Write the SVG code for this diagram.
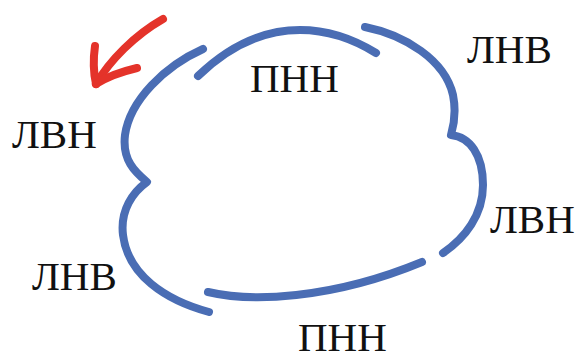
<svg xmlns="http://www.w3.org/2000/svg" width="579" height="360" viewBox="0 0 579 360">
<style>
.arc{fill:none;stroke:#4a6db4;stroke-width:8;stroke-linecap:round;stroke-linejoin:round}
.red{fill:none;stroke:#e4332a;stroke-width:8;stroke-linecap:round;stroke-linejoin:round}
.lbl{font-family:"Liberation Serif","Times New Roman",serif;font-size:41px;fill:#111}
</style>
<rect width="579" height="360" fill="#fff"/>
<g id="connectors">
<path class="arc" d="M203,49 C165,66 130,100 125,135 C122,160 135,172 147,182 C133,192 120,210 123,235 C128,275 165,300 209,312"/>
<path class="arc" d="M208,292 C250,302 330,300 422,262"/>
<path class="arc" d="M365,27 C405,35 445,60 453,95 C457,115 453,128 451,135 C470,137 483,155 483,185 C483,215 465,238 443,253"/>
<path class="arc" d="M198,76 C225,50 260,30 300,30 C330,30 355,40 376,53"/>
</g>
<g id="arrow">
<path class="red" d="M163,19 C135,35 110,60 96,84"/>
<path class="red" d="M95,46 C93,60 94,75 96,84"/>
<path class="red" d="M137,68 C120,72 105,78 96,84"/>
</g>
<g id="n1"><text class="lbl" x="250" y="92">ПНН</text></g>
<g id="n2"><text class="lbl" x="467" y="63">ЛНВ</text></g>
<g id="n3"><text class="lbl" x="490" y="233">ЛВН</text></g>
<g id="n4"><text class="lbl" x="298" y="351">ПНН</text></g>
<g id="n5"><text class="lbl" x="32" y="290">ЛНВ</text></g>
<g id="n6"><text class="lbl" x="12" y="148">ЛВН</text></g>
</svg>
